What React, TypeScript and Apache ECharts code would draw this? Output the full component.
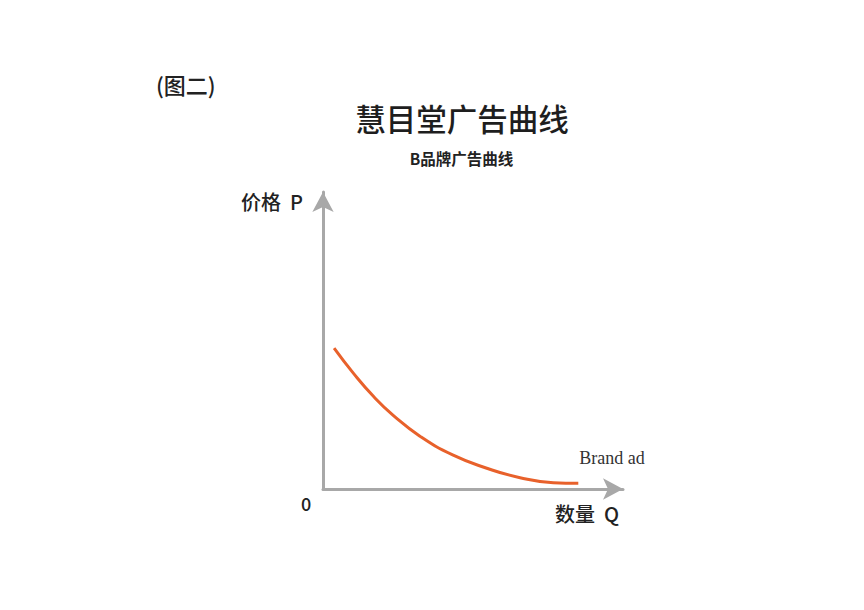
import { useEffect, useRef } from 'react';
import * as echarts from 'echarts';

// curve (quantity, price)
const quantity = [3.7, 10.1, 16.8, 23.4, 32.3, 43.4, 54.6, 65.7, 76.8, 85.1];
const price = [47.4, 39.0, 31.2, 24.8, 17.8, 11.4, 7.0, 3.8, 2.1, 1.9];

const seriesName = 'Brand ad';
const chartTitle = '慧目堂广告曲线';
const chartSubtitle = 'B品牌广告曲线';
const figureLabel = '(图二)';
const yAxisName = '价格  P';
const xAxisName = '数量  Q';
const originLabel = '0';

const CJK = '"Noto Sans CJK SC", "Noto Sans", sans-serif';
const AXIS_GRAY = '#a8a8a8';
const CURVE = '#e8612b';

export default function App() {
    const chartRef = useRef<HTMLDivElement>(null);

    useEffect(() => {
        document.body.style.margin = '0';
        const myChart = echarts.init(chartRef.current, null, { renderer: 'svg' });

        myChart.setOption({
            animation: false,
            backgroundColor: '#ffffff',
            title: [
                {
                    text: chartTitle,
                    left: 457,
                    top: 98,
                    textAlign: 'center',
                    textStyle: { fontFamily: CJK, fontSize: 30.5, fontWeight: 500, color: '#1e1e1e' },
                },
                {
                    text: chartSubtitle,
                    left: 456.5,
                    top: 145,
                    textAlign: 'center',
                    textStyle: { fontFamily: CJK, fontSize: 15.5, fontWeight: 'bold', color: '#222' },
                },
                {
                    text: figureLabel,
                    left: 151,
                    top: 68,
                    textStyle: { fontFamily: CJK, fontSize: 22, fontWeight: 500, color: '#222' },
                },
            ],
            grid: { left: 323, right: 241, top: 192, bottom: 121 },
            xAxis: {
                type: 'value',
                min: 0,
                max: 100,
                splitLine: { show: false },
                axisTick: { show: false },
                axisLabel: { show: false },
                axisLine: {
                    lineStyle: { color: AXIS_GRAY, width: 3 },
                    symbol: ['none', 'arrow'],
                    symbolSize: [16, 20],
                },
            },
            yAxis: {
                type: 'value',
                min: 0,
                max: 100,
                splitLine: { show: false },
                axisTick: { show: false },
                axisLabel: { show: false },
                axisLine: {
                    show: true,
                    lineStyle: { color: AXIS_GRAY, width: 3 },
                    symbol: ['none', 'arrow'],
                    symbolSize: [16, 20],
                },
            },
            graphic: [
                {
                    type: 'text',
                    right: 864 - 303,
                    top: 191,
                    style: { text: yAxisName, font: `500 20px ${CJK}`, fill: '#222' },
                },
                {
                    type: 'text',
                    right: 864 - 619,
                    top: 503,
                    style: { text: xAxisName, font: `500 20px ${CJK}`, fill: '#222' },
                },
                {
                    type: 'text',
                    left: 301,
                    top: 494,
                    style: { text: originLabel, font: `500 18px ${CJK}`, fill: '#222' },
                },
            ],
            series: [
                {
                    name: seriesName,
                    type: 'line',
                    data: quantity.map((q, i) => [q, price[i]]),
                    smooth: 0.5,
                    showSymbol: false,
                    lineStyle: { color: CURVE, width: 3 },
                    endLabel: {
                        show: true,
                        formatter: seriesName,
                        fontFamily: '"Liberation Serif", "DejaVu Serif", serif',
                        fontSize: 18,
                        color: '#333',
                        offset: [-7, -25],
                    },
                },
            ],
        });

        return () => {
            myChart.dispose();
        };
    }, []);

    return <div ref={chartRef} style={{ width: '864px', height: '610px' }} />;
}
